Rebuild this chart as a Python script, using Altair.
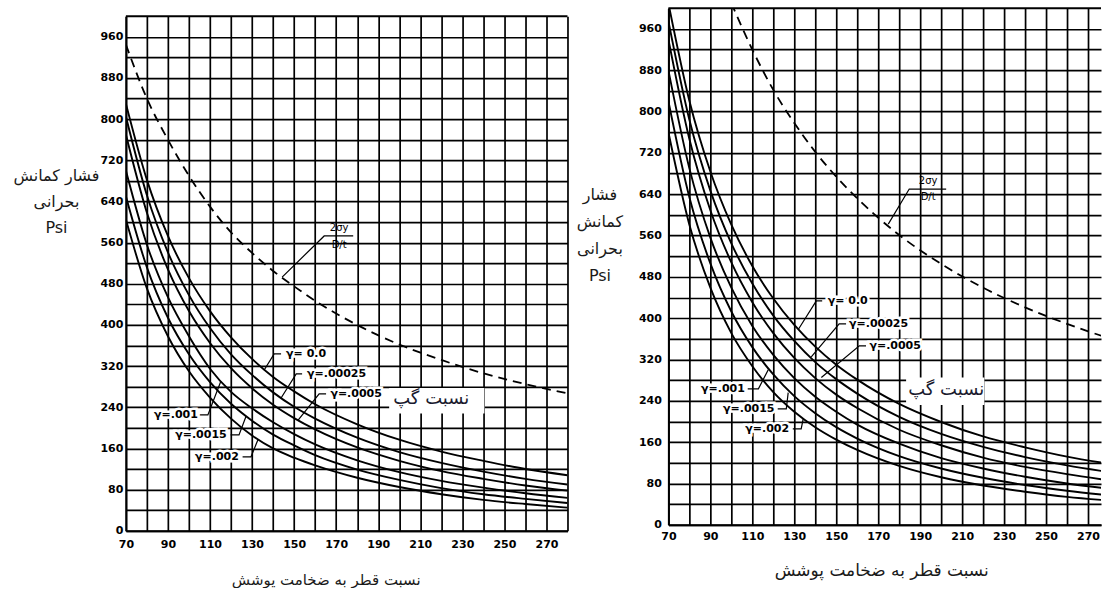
import altair as alt
import pandas as pd

# ---------------- data ----------------
dt = [70, 80, 90, 100, 110, 120, 130, 140, 150, 160, 180, 200, 220, 240, 260, 280]
gamma_labels = ["γ= 0.0", "γ=.00025", "γ=.0005", "γ=.001", "γ=.0015", "γ=.002"]

# left chart: critical buckling pressure (psi) vs D/t
left_g0     = [830, 682, 573, 491, 427, 376, 334, 299, 271, 246, 207, 177, 154, 136, 120, 108]
left_g00025 = [805, 652, 541, 458, 394, 343, 303, 269, 241, 218, 181, 153, 132, 115, 101, 90]
left_g0005  = [770, 618, 508, 427, 365, 316, 277, 245, 219, 197, 162, 136, 116, 101, 88, 78]
left_g001   = [700, 556, 454, 378, 315, 270, 238, 211, 188, 168, 137, 114, 97, 84, 73, 64]
left_g0015  = [650, 512, 414, 343, 289, 247, 214, 187, 166, 147, 119, 99, 83, 71, 62, 54]
left_g002   = [605, 471, 378, 310, 259, 218, 185, 160, 142, 127, 103, 85, 71, 60, 52, 45]
left_dashed = [945, 840, 760, 690, 630, 580, 540, 505, 475, 447, 400, 362, 332, 306, 285, 267]

# right chart
right_g0     = [1010, 821, 684, 581, 501, 438, 387, 345, 310, 281, 234, 199, 171, 150, 132, 118]
right_g00025 = [975, 784, 647, 545, 467, 405, 356, 315, 282, 254, 209, 176, 151, 131, 115, 102]
right_g0005  = [940, 747, 609, 508, 431, 371, 323, 284, 252, 226, 184, 154, 130, 112, 98, 86]
right_g001   = [880, 690, 556, 459, 385, 329, 284, 248, 219, 194, 157, 129, 109, 93, 80, 70]
right_g0015  = [820, 634, 506, 413, 344, 291, 249, 216, 189, 167, 133, 109, 91, 77, 66, 57]
right_g002   = [760, 581, 459, 371, 307, 257, 219, 189, 165, 145, 114, 92, 76, 64, 54, 47]
right_dashed_dt = [100, 110, 120, 130, 140, 150, 160, 180, 200, 220, 240, 260, 280]
right_dashed    = [1010, 920, 842, 778, 722, 674, 632, 561, 505, 459, 421, 389, 361]

# annotation anchors (data units)
left_label_x = [155.7, 170.2, 179.5, 93.8, 105.7, 113.3]
left_label_y = [343.7, 304.9, 266.0, 225.2, 186.4, 143.7]
left_leaders = [
    [(135.7, 312), (140.5, 343.7), (143.8, 343.7)],
    [(143.8, 258), (151.0, 304.9), (153.8, 304.9)],
    [(151.9, 215), (161.9, 266.0), (165.2, 266.0)],
    [(115.2, 291), (109.0, 225.2), (105.0, 225.2)],
    [(127.1, 222), (123.8, 186.4), (119.8, 186.4)],
    [(132.9, 178), (129.5, 143.7), (125.5, 143.7)],
]
left_frac_leader = [(144.3, 493), (164.3, 573), (178.1, 573)]
left_frac_text = [(171.4, 589, "2σy"), (171.4, 556, "D/t")]
left_box = (195.2, 240.5, 227.8, 277.7)
left_box_text = (215.2, 256, "نسبت گپ")

right_label_x = [155.5, 170.2, 178.1, 96.0, 108.3, 117.1]
right_label_y = [433.5, 389.0, 346.4, 263.2, 224.5, 185.8]
right_leaders = [
    [(131.9, 378), (140.5, 433.5), (143.3, 433.5)],
    [(138.1, 325), (151.4, 389.0), (154.7, 389.0)],
    [(142.9, 285), (161.0, 346.4), (164.2, 346.4)],
    [(117.6, 300), (112.9, 263.2), (107.8, 263.2)],
    [(127.1, 256), (126.2, 224.5), (122.1, 224.5)],
    [(134.3, 206), (133.3, 185.8), (129.3, 185.8)],
]
right_frac_leader = [(174.8, 582), (184.8, 650), (202.4, 650)]
right_frac_text = [(193.8, 666, "2σy"), (193.8, 634, "D/t")]
right_box = (183.3, 220.6, 232, 285)
right_box_text = (202.4, 261, "نسبت گپ")

y_top = [1000]

x_title = "نسبت قطر به ضخامت پوشش"
left_y_title = ["فشار کمانش", "بحرانی", "Psi"]
right_y_title = ["فشار", "کمانش", "بحرانی", "Psi"]

FA = "DejaVu Sans"


def make_axes(tick_max, x_title_x, x_title_y, x_title_size, y_title, y_title_x, y_title_y,
              y_line_h, xlp, ylp):
    common = dict(grid=True, gridColor="black", gridWidth=1.7, gridOpacity=1,
                  domainColor="black", domainWidth=2, ticks=False,
                  labelFont=FA, labelFontWeight="bold", labelFontSize=11,
                  labelColor="black", labelFlush=False, labelOverlap=False,
                  titleFont=FA, titleFontWeight="normal", titleColor="#1a1a1a")
    xaxis = alt.Axis(values=list(range(70, tick_max + 1, 10)),
                     labelExpr="((datum.value - 70) % 20 == 0 && datum.value < 280) ? datum.label : ''",
                     labelPadding=xlp, title=x_title, titleX=x_title_x, titleY=x_title_y,
                     titleFontSize=x_title_size,
                     titleBaseline="middle", titleAlign="center", **common)
    yaxis = alt.Axis(values=list(range(0, 961, 40)),
                     labelExpr="(datum.value % 80 == 0) ? datum.label : ''",
                     labelPadding=ylp, title=y_title, titleAngle=0, titleAlign="center",
                     titleBaseline="top", titleX=y_title_x, titleY=y_title_y,
                     titleFontSize=16, titleLineHeight=y_line_h, **common)
    return xaxis, yaxis


def panel(curves, dash_x, dash_y, lab_x, lab_y, leaders, frac_leader, frac_text,
          box, box_text, xmax, width, height, xaxis, yaxis):
    xs = alt.Scale(domain=[70, xmax], nice=False, zero=False)
    ys = alt.Scale(domain=[0, 1000], nice=False, zero=False)

    def X():
        return alt.X("x:Q", scale=xs, axis=xaxis)

    def Y():
        return alt.Y("y:Q", scale=ys, axis=yaxis)

    cdf = pd.DataFrame([{"x": x, "y": y, "g": name}
                        for name, vals in zip(gamma_labels, curves)
                        for x, y in zip(dt, vals)])
    ddf = pd.DataFrame({"x": dash_x, "y": dash_y})
    ldf = pd.DataFrame({"x": lab_x, "y": lab_y, "t": gamma_labels})
    rows = []
    for gi, pts in enumerate(leaders + [frac_leader]):
        for oi, (x, y) in enumerate(pts):
            rows.append({"x": x, "y": y, "g": gi, "o": oi})
    leadf = pd.DataFrame(rows)
    fdf = pd.DataFrame([{"x": x, "y": y, "t": t} for x, y, t in frac_text])
    bdf = pd.DataFrame([{"x": box[0], "x2": box[1], "y": box[2], "y2": box[3]}])
    btdf = pd.DataFrame([{"x": box_text[0], "y": box_text[1], "t": box_text[2]}])
    topdf = pd.DataFrame({"y": y_top})

    top_l = alt.Chart(topdf).mark_rule(color="black", strokeWidth=1.8).encode(y=Y())
    box_l = alt.Chart(bdf).mark_rect(color="white").encode(
        x=X(), x2="x2:Q", y=Y(), y2="y2:Q")
    curves_l = alt.Chart(cdf).mark_line(
        color="black", strokeWidth=1.9, interpolate="monotone", clip=True
    ).encode(x=X(), y=Y(), detail="g:N")
    dash_l = alt.Chart(ddf).mark_line(
        color="black", strokeWidth=1.8, strokeDash=[9, 6], interpolate="monotone", clip=True
    ).encode(x=X(), y=Y())
    lead_l = alt.Chart(leadf).mark_line(color="black", strokeWidth=1.2).encode(
        x=X(), y=Y(), detail="g:N", order="o:Q")
    halo_l = alt.Chart(ldf).mark_text(
        font=FA, fontSize=11, fontWeight="bold", stroke="white", strokeWidth=5,
        color="white", align="center", baseline="middle"
    ).encode(x=X(), y=Y(), text="t:N")
    text_l = alt.Chart(ldf).mark_text(
        font=FA, fontSize=11, fontWeight="bold", color="black",
        align="center", baseline="middle"
    ).encode(x=X(), y=Y(), text="t:N")
    frac_l = alt.Chart(fdf).mark_text(
        font=FA, fontSize=10, color="black", align="center", baseline="middle"
    ).encode(x=X(), y=Y(), text="t:N")
    btext_l = alt.Chart(btdf).mark_text(
        font=FA, fontSize=18, color="#1a1a2e", align="center", baseline="middle"
    ).encode(x=X(), y=Y(), text="t:N")

    return alt.layer(top_l, box_l, curves_l, dash_l, lead_l, halo_l, text_l, frac_l, btext_l).properties(
        width=width, height=height)


lx, ly = make_axes(280, 200, 49, 15, left_y_title, -70, 151, 26, 8, 3)
left = panel([left_g0, left_g00025, left_g0005, left_g001, left_g0015, left_g002],
             dt, left_dashed, left_label_x, left_label_y, left_leaders,
             left_frac_leader, left_frac_text, left_box, left_box_text,
             280, 442, 515, lx, ly)

rx, ry = make_axes(270, 213, 46, 17, right_y_title, -69, 178, 27, 6, 7)
right = panel([right_g0, right_g00025, right_g0005, right_g001, right_g0015, right_g002],
              right_dashed_dt, right_dashed, right_label_x, right_label_y, right_leaders,
              right_frac_leader, right_frac_text, right_box, right_box_text,
              276.2, 433, 517, rx, ry)

spacer = alt.Chart(pd.DataFrame({"x": [0]})).mark_rule(opacity=0).encode(
    x=alt.value(0), x2=alt.value(1), y=alt.value(0)).properties(width=10, height=7)

left_col = alt.vconcat(spacer, left, spacing=0)

chart = alt.hconcat(left_col, right, spacing=7).properties(
    padding={"left": 12, "top": 7, "right": 0, "bottom": 0},
    background="white",
).configure_view(strokeWidth=0)

chart.save("out.html", embed_options={"renderer": "svg", "actions": False})
